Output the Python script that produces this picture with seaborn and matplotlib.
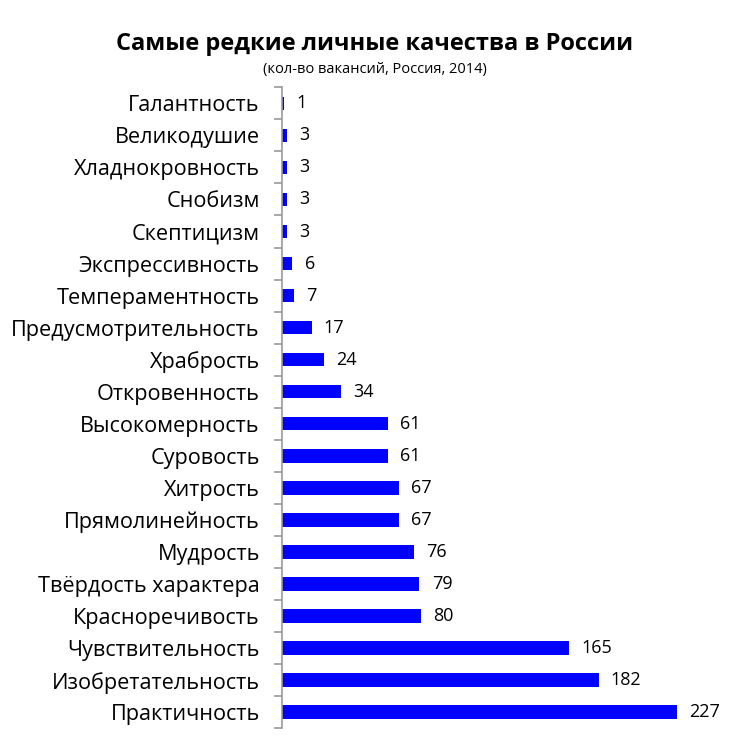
import matplotlib
matplotlib.use("Agg")
import matplotlib.pyplot as plt
import numpy as np
import pandas as pd
import seaborn as sns

qualities = [
    "Галантность", "Великодушие", "Хладнокровность", "Снобизм", "Скептицизм",
    "Экспрессивность", "Темпераментность", "Предусмотрительность", "Храбрость",
    "Откровенность", "Высокомерность", "Суровость", "Хитрость", "Прямолинейность",
    "Мудрость", "Твёрдость характера", "Красноречивость", "Чувствительность",
    "Изобретательность", "Практичность",
]
vacancies = [1, 3, 3, 3, 3, 6, 7, 17, 24, 34, 61, 61, 67, 67, 76, 79, 80, 165, 182, 227]

title = "Самые редкие личные качества в России"
subtitle = "(кол-во вакансий, Россия, 2014)"

sns.set_style("white")
plt.rcParams["font.family"] = ["Open Sans", "DejaVu Sans"]
plt.rcParams["text.color"] = "black"
plt.rcParams["ytick.color"] = "black"
plt.rcParams["ytick.labelcolor"] = "black"

df = pd.DataFrame({"quality": qualities, "count": vacancies})

fig = plt.figure(figsize=(7.5, 7.4), dpi=100)
ax = fig.add_axes([0.376, 0.016, 0.58, 0.866])

sns.barplot(data=df, y="quality", x="count", orient="h", color="#0000FF",
            saturation=1, width=0.42, edgecolor="none", linewidth=0, ax=ax)

ax.set_xlim(0, 250)
ax.set_ylim(len(qualities) - 0.5, -0.5)
ax.set_xlabel("")
ax.set_ylabel("")
ax.set_xticks([])

for i, v in enumerate(vacancies):
    ax.text(v + 7, i, str(v), va="center", ha="left", fontsize=13, color="black")

# category labels, ticks at the boundaries
ax.set_yticks(range(len(qualities)))
ax.set_yticklabels(qualities, fontsize=15.6)
ax.tick_params(axis="y", which="major", length=0, pad=16, labelcolor="black")
ax.set_yticks(np.arange(-0.5, len(qualities)), minor=True)
ax.tick_params(axis="y", which="minor", left=True, length=6, width=1.2,
               color="#999999", direction="out")

for s in ["top", "right", "bottom"]:
    ax.spines[s].set_visible(False)
ax.spines["left"].set_color("#999999")
ax.spines["left"].set_linewidth(1.2)

fig.text(0.5, 0.932, title, ha="center", fontsize=17, fontweight="bold")
fig.text(0.5, 0.902, subtitle, ha="center", fontsize=10.5)

fig.savefig("out.png", dpi=100)
